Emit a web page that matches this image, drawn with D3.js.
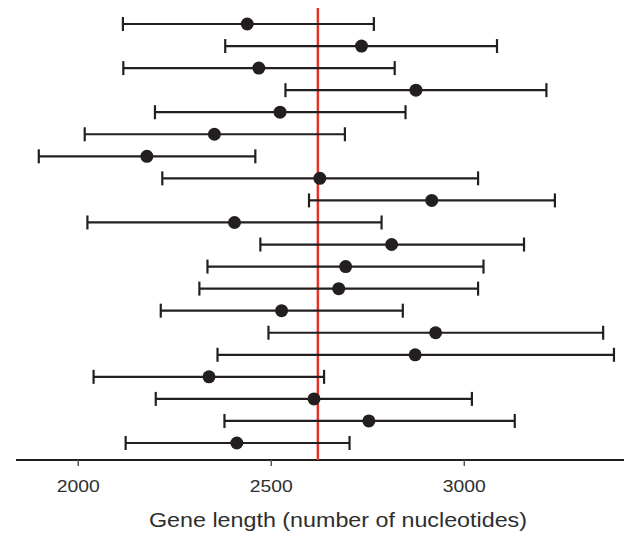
<!DOCTYPE html>
<html>
<head>
<meta charset="utf-8">
<title>Gene length</title>
<script src="https://d3js.org/d3.v7.min.js"></script>
<style>
  body { margin: 0; background: #fff; }
  .axis text { font-family: "Liberation Sans", Arial, sans-serif; font-size: 17px; fill: #2e2e2e; }
</style>
</head>
<body>
<script>
var w = 624, h = 540;

// rows from top to bottom
var lows   = [2117, 2382, 2118, 2538, 2200, 2018, 1899, 2219, 2599, 2025,
              2473, 2336, 2315, 2215, 2494, 2362, 2041, 2202, 2380, 2124];
var means  = [2439, 2735, 2469, 2876, 2524, 2354, 2179, 2627, 2917, 2406,
              2813, 2694, 2676, 2528, 2927, 2874, 2340, 2612, 2754, 2412];
var highs  = [2767, 3086, 2821, 3214, 2849, 2692, 2460, 3037, 3236, 2787,
              3156, 3051, 3037, 2842, 3361, 3389, 2638, 3021, 3132, 2704];
var refValue = 2622;
var tickVals = [2000, 2500, 3000];

var svg = d3.select("body").append("svg")
  .attr("width", w)
  .attr("height", h);

var x = d3.scaleLinear().domain([1840, 3415]).range([16, 624]);
var y = d3.scalePoint().domain(d3.range(lows.length)).range([24, 443]);
var axisY = 460;

// axis
var xAxis = d3.axisBottom(x).tickValues(tickVals).tickSize(6).tickPadding(14)
  .tickFormat(d3.format("d"));
var gx = svg.append("g")
  .attr("class", "axis")
  .attr("transform", "translate(0," + axisY + ")")
  .call(xAxis);
gx.select(".domain").attr("stroke", "#231f20").attr("stroke-width", 2.2)
  .attr("d", "M" + x.range()[0] + ",0H" + x.range()[1]);
gx.selectAll(".tick line").attr("stroke", "#4a5866").attr("stroke-width", 1.5);
// the original lettering is a little wider than Arial
gx.selectAll(".tick text")
  .attr("textLength", 43)
  .attr("lengthAdjust", "spacingAndGlyphs");

// red reference line
svg.append("line")
  .attr("x1", x(refValue)).attr("x2", x(refValue))
  .attr("y1", 8).attr("y2", axisY)
  .attr("stroke", "#e3342a")
  .attr("stroke-width", 2.5);

var rows = svg.append("g").selectAll("g")
  .data(d3.range(lows.length))
  .enter().append("g");

rows.append("line")
  .attr("x1", function(i) { return x(lows[i]); })
  .attr("x2", function(i) { return x(highs[i]); })
  .attr("y1", function(i) { return y(i); })
  .attr("y2", function(i) { return y(i); })
  .attr("stroke", "#231f20").attr("stroke-width", 2.2);

rows.append("line")
  .attr("x1", function(i) { return x(lows[i]); })
  .attr("x2", function(i) { return x(lows[i]); })
  .attr("y1", function(i) { return y(i) - 7; })
  .attr("y2", function(i) { return y(i) + 7; })
  .attr("stroke", "#231f20").attr("stroke-width", 2.2);

rows.append("line")
  .attr("x1", function(i) { return x(highs[i]); })
  .attr("x2", function(i) { return x(highs[i]); })
  .attr("y1", function(i) { return y(i) - 7; })
  .attr("y2", function(i) { return y(i) + 7; })
  .attr("stroke", "#231f20").attr("stroke-width", 2.2);

rows.append("circle")
  .attr("cx", function(i) { return x(means[i]); })
  .attr("cy", function(i) { return y(i); })
  .attr("r", 6.5)
  .attr("fill", "#231f20");

// axis title
svg.append("text")
  .attr("x", 338)
  .attr("y", 527)
  .attr("text-anchor", "middle")
  .attr("font-family", "Liberation Sans, Arial, sans-serif")
  .attr("font-size", "21px")
  .attr("fill", "#2e2e2e")
  .attr("textLength", 378)
  .attr("lengthAdjust", "spacingAndGlyphs")
  .text("Gene length (number of nucleotides)");
</script>
</body>
</html>
